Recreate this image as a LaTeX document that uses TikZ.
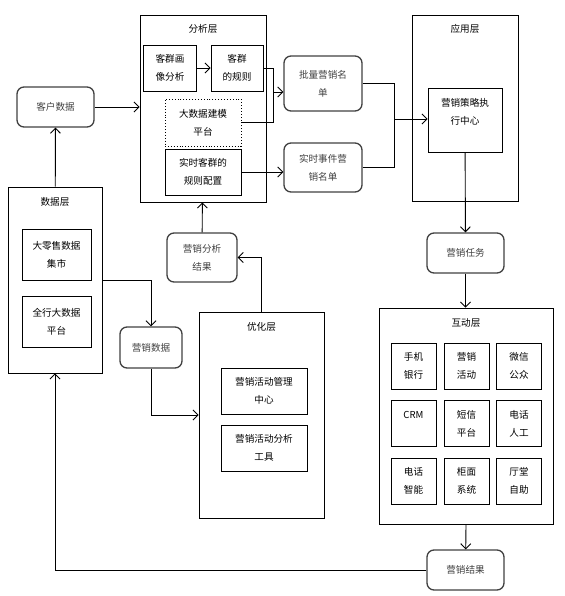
\documentclass[tikz,border=0pt]{standalone}
\usepackage{fontspec}
\setmainfont{Noto Sans CJK SC}
\usepackage{tikz}
\usetikzlibrary{positioning,arrows.meta,calc}
\usepackage{xcolor}

\begin{document}
\begin{tikzpicture}[x=1pt,y=-1pt,>={Straight Barb[length=5pt,width=10pt]},line width=0.9pt,
  every node/.style={font=\fontsize{9.6}{18}\selectfont,align=center,inner sep=0pt},
  layer/.style={draw,minimum width=#1},
  box/.style={draw,minimum width=#1},
  flow/.style={draw=black!75,line width=1.3pt,rounded corners=7pt,text=black!75,minimum width=#1}]
\useasboundingbox (0,0) rectangle (564,596);
% 分析层
\node[layer=126pt,minimum height=187pt] (ana) at (203,108.5) {};
\node (anat) at (203,29) {分析层};
\node[box=53pt,minimum height=46pt] (kqhx) at (170,68) {客群画\\像分析};
\node[box=52pt,minimum height=46pt] (kqgz) at (237,68) {客群\\的规则};
\node[box=76pt,minimum height=47pt,dotted] (dsj) at (203,122.5) {大数据建模\\平台};
\node[box=76pt,minimum height=46pt] (sskq) at (203,172) {实时客群的\\规则配置};
\node[flow=77pt,minimum height=40pt] (khsj) at (55.5,107) {客户数据};
% 数据层
\node[layer=94pt,minimum height=186pt] (sjc) at (55,280) {};
\node (sjct) at (55,202) {数据层};
\node[box=69pt,minimum height=51pt] (dls) at (56.5,254.5) {大零售数据\\集市};
\node[box=69pt,minimum height=51pt] (qh) at (56.5,321.5) {全行大数据\\平台};
\node[flow=70pt,minimum height=49pt] (fxjg) at (202,257.5) {营销分析\\结果};
\node[flow=62pt,minimum height=41pt] (yxsj) at (151,347.5) {营销数据};
% 优化层
\node[layer=125pt,minimum height=206pt] (yhc) at (261.5,415) {};
\node (yhct) at (261.5,327) {优化层};
\node[box=86pt,minimum height=46pt] (glzx) at (264,391) {营销活动管理\\中心};
\node[box=86pt,minimum height=46pt] (fxgj) at (264,448) {营销活动分析\\工具};
\node[flow=78pt,minimum height=55pt] (plmd) at (323,83.5) {批量营销名\\单};
\node[flow=78pt,minimum height=49pt] (ssmd) at (323,167.5) {实时事件营\\销名单};
% 应用层
\node[layer=106pt,minimum height=186pt] (yyc) at (465,108) {};
\node (yyct) at (465,29) {应用层};
\node[box=74pt,minimum height=64pt] (clzx) at (465,120) {营销策略执\\行中心\\\mbox{}};
\node[flow=77pt,minimum height=40pt] (yxrw) at (465.5,253) {营销任务};
% 互动层
\node[layer=174pt,minimum height=216pt] (hdc) at (466,416) {};
\node (hdct) at (466,323) {互动层};
\node[box=45pt,minimum height=46pt] (sjyh) at (413.5,366) {手机\\银行};
\node[box=45pt,minimum height=46pt] (yxhd) at (466.5,366) {营销\\活动};
\node[box=45pt,minimum height=46pt] (wxgz) at (519,366) {微信\\公众};
\node[box=45pt,minimum height=46pt] (crm) at (413.5,423.5) {CRM\\\mbox{}};
\node[box=45pt,minimum height=46pt] (dxpt) at (466.5,423.5) {短信\\平台};
\node[box=45pt,minimum height=46pt] (dhrg) at (519,423.5) {电话\\人工};
\node[box=45pt,minimum height=46pt] (dhzn) at (413.5,481) {电话\\智能};
\node[box=45pt,minimum height=46pt] (gmxt) at (466.5,481) {柜面\\系统};
\node[box=45pt,minimum height=46pt] (tbzz) at (519,481) {厅堂\\自助};
\node[flow=77pt,minimum height=40pt] (yxjg) at (465.5,570) {营销结果};
\coordinate (j1) at (273,92);
\coordinate (j2) at (394,119);
% connectors
\draw[->] (kqhx) -- (kqgz);
\draw[->] (khsj) -- (khsj -| ana.west);
\draw[->] (sjc) -- (khsj);
\draw[->] (fxjg) -- (ana);
\draw[->] (sjc.east) -| (yxsj);
\draw[->] (yxsj) |- (yhc.west);
\draw[->] (yhc.north) |- (fxjg.east);
\draw (kqgz.east) -| (j1);
\draw (dsj.east) -| (j1);
\draw[->] (j1) -- (j1 -| plmd.west);
\draw[->] (sskq) -- (sskq -| ssmd.west);
\draw (plmd.east) -| (j2);
\draw (ssmd.east) -| (j2);
\draw[->] (j2) -- (j2 -| clzx.west);
\draw[->] (clzx) -- (yxrw);
\draw[->] (yxrw) -- (yxrw |- hdc.north);
\draw[->] (hdc.south) -- (yxjg);
\draw[->] (yxjg) -| (sjc);
\end{tikzpicture}
\end{document}
